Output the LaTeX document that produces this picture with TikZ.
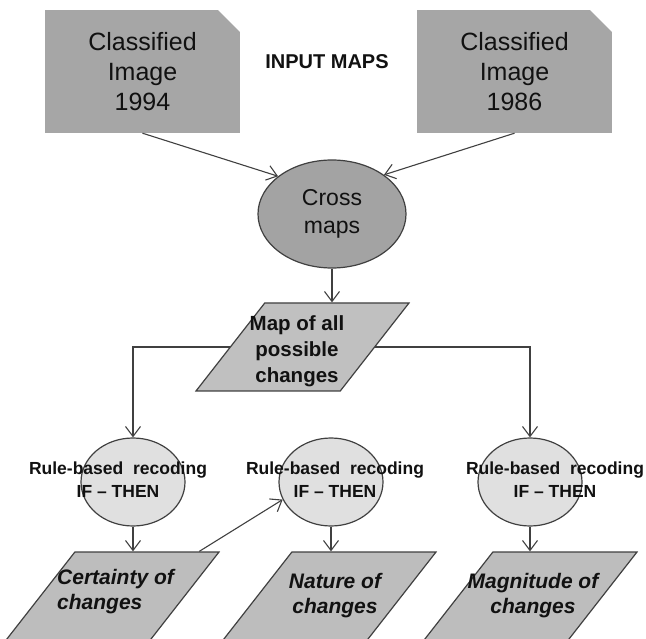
\documentclass[tikz,border=0pt]{standalone}
\usepackage{fontspec}
\setmainfont{Liberation Sans}
\usepackage{tikz}
\usetikzlibrary{shapes.geometric, arrows.meta}
\definecolor{imagegray}{HTML}{A6A6A6}
\definecolor{crossgray}{HTML}{A3A3A3}
\definecolor{mapgray}{HTML}{C0C0C0}
\definecolor{outgray}{HTML}{BDBDBD}
\definecolor{rulegray}{HTML}{E0E0E0}
\definecolor{edgegray}{HTML}{404040}
\definecolor{darktext}{HTML}{111111}

\tikzset{
	inputbox/.style={fill=imagegray, minimum width=195pt, minimum height=123pt, inner sep=0pt,
		align=center, font=\fontsize{25}{30}\selectfont, text=darktext,
		path picture={\fill[white] ([xshift=-22pt]path picture bounding box.north east)
			-- (path picture bounding box.north east)
			-- ([yshift=-22pt]path picture bounding box.north east) -- cycle;}},
	crossnode/.style={ellipse, draw=edgegray, line width=1.2pt, fill=crossgray,
		minimum width=148pt, minimum height=108pt, inner sep=0pt, align=center,
		font=\fontsize{23}{28}\selectfont, text=darktext},
	slantbox/.style={trapezium, trapezium left angle=52, trapezium right angle=128,
		trapezium stretches body=true, draw=edgegray, line width=1.2pt, inner sep=0pt},
	rulenode/.style={ellipse, draw=edgegray, line width=1.2pt, fill=rulegray,
		minimum width=104pt, minimum height=88pt, inner sep=0pt},
	ruletext/.style={align=center, inner sep=0pt, text=darktext,
		font=\fontsize{17.5}{23}\selectfont\bfseries},
	maptext/.style={align=center, inner sep=0pt, text=darktext,
		font=\fontsize{20.5}{26}\selectfont\bfseries},
	outtext/.style={align=center, inner sep=0pt, text=darktext,
		font=\fontsize{21}{25}\selectfont\bfseries\itshape},
	link/.style={draw=edgegray, line width=1.1pt, -{Straight Barb[length=10pt,width=15pt]}},
}

\begin{document}
\begin{tikzpicture}[x=1pt, y=-1pt]
				\useasboundingbox (0,0) rectangle (646,639);
				\clip (0,0) rectangle (646,639);
				% input maps
				\node[inputbox] (img1994) at (142.5,71.5) {Classified\\Image\\1994};
				\node[inputbox] (img1986) at (514.5,71.5) {Classified\\Image\\1986};
				\node[font=\fontsize{20}{24}\selectfont\bfseries, text=darktext] (inputmaps) at (327,62) {INPUT MAPS};
				\node[crossnode] (cross) at (332,214) {Cross\\maps};
				\node[slantbox, fill=mapgray, minimum width=213pt, text height=44pt, text depth=44pt] (allchanges) at (302.5,347) {};
				\node[maptext] (allchangestxt) at (297,351) {Map of all\\possible\\changes};
				% recoding steps
				\node[rulenode] (rule1) at (133,482) {};
				\node[rulenode] (rule2) at (331,482) {};
				\node[rulenode] (rule3) at (530,482) {};
				\node[ruletext] (rule1txt) at (118,480) {Rule-based~~recoding\\IF -- THEN};
				\node[ruletext] (rule2txt) at (335,480) {Rule-based~~recoding\\IF -- THEN};
				\node[ruletext] (rule3txt) at (555,480) {Rule-based~~recoding\\IF -- THEN};
				% output maps
				\node[slantbox, fill=outgray, minimum width=216pt, text height=46pt, text depth=46pt] (certainty) at (111,598) {};
				\node[slantbox, fill=outgray, minimum width=216pt, text height=46pt, text depth=46pt] (nature) at (328,598) {};
				\node[slantbox, fill=outgray, minimum width=216pt, text height=46pt, text depth=46pt] (magnitude) at (529,598) {};
				\node[outtext, align=left, anchor=west] (certaintytxt) at (57,592) {Certainty of\\changes};
				\node[outtext] (naturetxt) at (335,596) {Nature of\\changes};
				\node[outtext] (magnitudetxt) at (533,596) {Magnitude of\\changes};
				% connectors
				\draw[link] (img1994.south) -- (cross.145);
				\draw[link] (img1986.south) -- (cross.37);
				\draw[link] (cross.south) -- (cross.south |- allchanges.north);
				\draw[link] (allchanges.west) -| (rule1.north);
				\draw[link] (allchanges.east) -| (rule3.north);
				\draw[link] (rule1.south) -- (rule1.south |- certainty.north);
				\draw[link] (rule2.south) -- (rule2.south |- nature.north);
				\draw[link] (rule3.south) -- (rule3.south |- magnitude.north);
				\draw[link] ([xshift=-21pt]certainty.top right corner) -- (rule2.200);
			\end{tikzpicture}
\end{document}
